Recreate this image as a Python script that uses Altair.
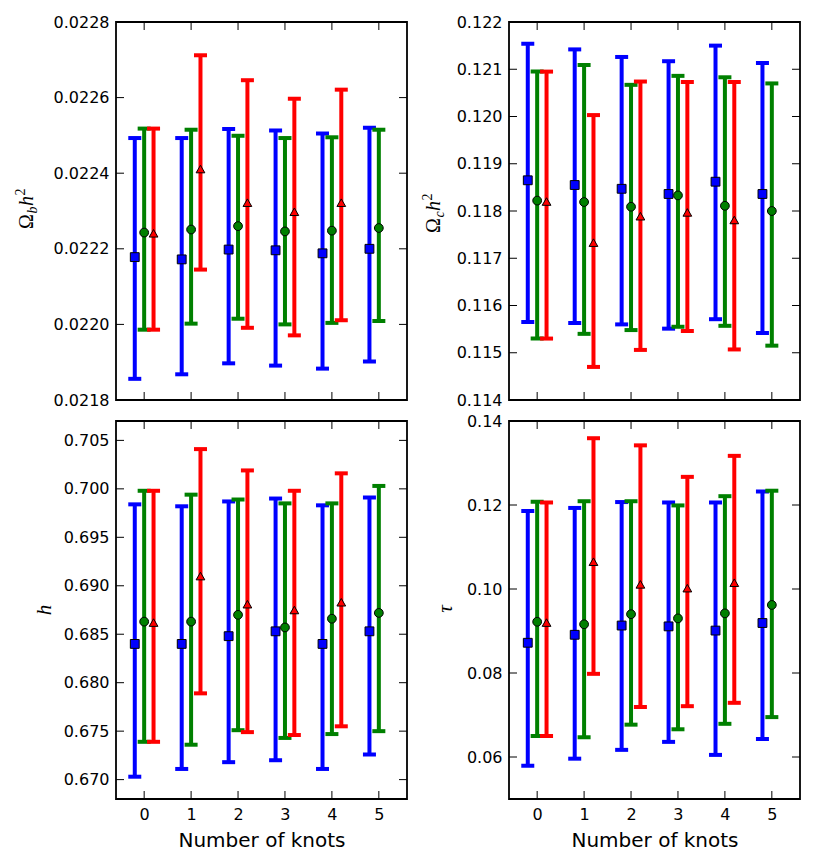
import altair as alt
import pandas as pd

# ---------------- data ----------------
knots = [0, 1, 2, 3, 4, 5]
series_names = ["blue", "green", "red"]

# Omega_b h^2
ob_blue_c = [0.022178, 0.022172, 0.022198, 0.022196, 0.022188, 0.022200]
ob_blue_lo = [0.021856, 0.021868, 0.021897, 0.021891, 0.021883, 0.021902]
ob_blue_hi = [0.022493, 0.022493, 0.022517, 0.022513, 0.022505, 0.022520]
ob_green_c = [0.022243, 0.022251, 0.022260, 0.022246, 0.022248, 0.022255]
ob_green_lo = [0.021986, 0.022002, 0.022015, 0.022000, 0.022004, 0.022009]
ob_green_hi = [0.022518, 0.022515, 0.022499, 0.022493, 0.022495, 0.022515]
ob_red_c = [0.022241, 0.022411, 0.022322, 0.022298, 0.022322]
ob_red_lo = [0.021986, 0.022145, 0.021991, 0.021971, 0.022011]
ob_red_hi = [0.022518, 0.022712, 0.022646, 0.022597, 0.022621]

# Omega_c h^2
oc_blue_c = [0.11865, 0.11855, 0.11847, 0.11836, 0.11862, 0.11836]
oc_blue_lo = [0.11565, 0.11563, 0.11560, 0.11551, 0.11571, 0.11542]
oc_blue_hi = [0.12154, 0.12142, 0.12126, 0.12117, 0.12150, 0.12113]
oc_green_c = [0.11822, 0.11819, 0.11809, 0.11833, 0.11811, 0.11800]
oc_green_lo = [0.11530, 0.11540, 0.11548, 0.11555, 0.11557, 0.11515]
oc_green_hi = [0.12095, 0.12109, 0.12067, 0.12086, 0.12083, 0.12070]
oc_red_c = [0.11820, 0.11733, 0.11789, 0.11797, 0.11781]
oc_red_lo = [0.11530, 0.11470, 0.11506, 0.11546, 0.11507]
oc_red_hi = [0.12095, 0.12003, 0.12074, 0.12073, 0.12073]

# h
h_blue_c = [0.6840, 0.6840, 0.6848, 0.6853, 0.6840, 0.6853]
h_blue_lo = [0.6703, 0.6711, 0.6718, 0.6720, 0.6711, 0.6726]
h_blue_hi = [0.6984, 0.6982, 0.6987, 0.6990, 0.6983, 0.6991]
h_green_c = [0.6863, 0.6863, 0.6870, 0.6857, 0.6866, 0.6872]
h_green_lo = [0.6739, 0.6736, 0.6751, 0.6743, 0.6747, 0.6750]
h_green_hi = [0.6998, 0.6994, 0.6989, 0.6985, 0.6985, 0.7003]
h_red_c = [0.6862, 0.6910, 0.6881, 0.6875, 0.6883]
h_red_lo = [0.6739, 0.6789, 0.6749, 0.6746, 0.6755]
h_red_hi = [0.6998, 0.7041, 0.7019, 0.6998, 0.7016]

# tau
t_blue_c = [0.0872, 0.0891, 0.0913, 0.0911, 0.0901, 0.0919]
t_blue_lo = [0.0579, 0.0596, 0.0617, 0.0636, 0.0605, 0.0643]
t_blue_hi = [0.1186, 0.1193, 0.1207, 0.1206, 0.1206, 0.1232]
t_green_c = [0.0922, 0.0916, 0.0940, 0.0930, 0.0942, 0.0962]
t_green_lo = [0.0650, 0.0647, 0.0677, 0.0666, 0.0679, 0.0695]
t_green_hi = [0.1208, 0.1209, 0.1209, 0.1199, 0.1221, 0.1234]
t_red_c = [0.0920, 0.1065, 0.1011, 0.1002, 0.1015]
t_red_lo = [0.0650, 0.0798, 0.0719, 0.0721, 0.0729]
t_red_hi = [0.1206, 0.1359, 0.1342, 0.1267, 0.1317]

ob_ticks = [0.0218, 0.0220, 0.0222, 0.0224, 0.0226, 0.0228]
oc_ticks = [0.114, 0.115, 0.116, 0.117, 0.118, 0.119, 0.120, 0.121, 0.122]
h_ticks = [0.670, 0.675, 0.680, 0.685, 0.690, 0.695, 0.700, 0.705]
t_ticks = [0.06, 0.08, 0.10, 0.12, 0.14]

# ---------------- style ----------------
COLORS = ["#0000ff", "#008000", "#ff0000"]
SHAPES = ["square", "circle", "triangle-up"]
OFFSETS = {"blue": -0.2, "green": 0.0, "red": 0.2}
W, H = 291, 378
TICK = 8
FONT = "DejaVu Sans"
MATH = "Liberation Serif"


def build_df(blue, green, red):
    rows = []
    for name, (c, lo, hi) in zip(series_names, [blue, green, red]):
        for k, cv, lv, hv in zip(knots, c, lo, hi):
            rows.append(dict(series=name, k=k, xpos=k + OFFSETS[name], c=cv, lo=lv, hi=hv))
    return pd.DataFrame(rows)


def title_layers(parts, x0, y0):
    layers = []
    y = y0
    one = pd.DataFrame({"a": [0]})
    for text, size, style, shift, adv in parts:
        layers.append(
            alt.Chart(one).mark_text(
                angle=270, align="left", baseline="alphabetic", font=MATH,
                fontSize=size, fontStyle=style, color="black"
            ).encode(x=alt.value(x0 + shift), y=alt.value(y), text=alt.value(text))
        )
        y -= adv
    return layers


def panel(df, ydomain, yticks, yfmt, bottom, titles):
    xscale = alt.Scale(domain=[-0.6, 5.6], nice=False, zero=False)
    yscale = alt.Scale(domain=ydomain, nice=False, zero=False)
    if bottom:
        xaxis = alt.Axis(values=knots, format="d", title="Number of knots",
                         labelFontSize=16, titleFontSize=20, labelPadding=7,
                         titlePadding=8, ticks=False, tickSize=0, domain=False, grid=False,
                         labelFont=FONT, titleFont=FONT, titleFontWeight="normal",
                         labelColor="black", titleColor="black", labelFlush=False)
    else:
        xaxis = alt.Axis(values=knots, labels=False, title=None, ticks=False,
                         tickSize=0, domain=False, grid=False)
    yaxis = alt.Axis(values=yticks, format=yfmt, title=None, labelFontSize=16,
                     labelPadding=7, ticks=False, tickSize=0, domain=False, grid=False,
                     labelFont=FONT, labelColor="black", labelFlush=False)

    color = alt.Color("series:N", scale=alt.Scale(domain=series_names, range=COLORS), legend=None)
    X = alt.X("xpos:Q", scale=xscale, axis=xaxis)
    base = alt.Chart(df)

    bars = base.mark_rule(strokeWidth=4).encode(
        x=X, y=alt.Y("lo:Q", scale=yscale, axis=yaxis), y2="hi:Q", color=color)
    cap_lo = base.mark_tick(orient="horizontal", size=13, thickness=4, opacity=1).encode(
        x=X, y=alt.Y("lo:Q", scale=yscale, axis=yaxis), color=color)
    cap_hi = base.mark_tick(orient="horizontal", size=13, thickness=4, opacity=1).encode(
        x=X, y=alt.Y("hi:Q", scale=yscale, axis=yaxis), color=color)
    pts = base.mark_point(filled=True, opacity=1, stroke="black", strokeWidth=1).encode(
        x=X, y=alt.Y("c:Q", scale=yscale, axis=yaxis), color=color,
        shape=alt.Shape("series:N", scale=alt.Scale(domain=series_names, range=SHAPES), legend=None),
        size=alt.Size("series:N", scale=alt.Scale(domain=series_names, range=[78, 76, 90]), legend=None),
    )

    yt = alt.Chart(pd.DataFrame({"v": yticks}))
    xt = alt.Chart(pd.DataFrame({"k": knots}))
    YT = alt.Y("v:Q", scale=yscale, axis=yaxis)
    XT = alt.X("k:Q", scale=xscale, axis=xaxis)
    ticks = [
        yt.mark_rule(color="black", strokeWidth=1).encode(y=YT, x=alt.value(0), x2=alt.value(TICK)),
        yt.mark_rule(color="black", strokeWidth=1).encode(y=YT, x=alt.value(W - TICK), x2=alt.value(W)),
        xt.mark_rule(color="black", strokeWidth=1).encode(x=XT, y=alt.value(0), y2=alt.value(TICK)),
        xt.mark_rule(color="black", strokeWidth=1).encode(x=XT, y=alt.value(H - TICK), y2=alt.value(H)),
    ]
    return alt.layer(*ticks, bars, cap_lo, cap_hi, pts, *titles).properties(width=W, height=H)


ob_df = build_df((ob_blue_c, ob_blue_lo, ob_blue_hi), (ob_green_c, ob_green_lo, ob_green_hi),
                 (ob_red_c, ob_red_lo, ob_red_hi))
oc_df = build_df((oc_blue_c, oc_blue_lo, oc_blue_hi), (oc_green_c, oc_green_lo, oc_green_hi),
                 (oc_red_c, oc_red_lo, oc_red_hi))
h_df = build_df((h_blue_c, h_blue_lo, h_blue_hi), (h_green_c, h_green_lo, h_green_hi),
                (h_red_c, h_red_lo, h_red_hi))
t_df = build_df((t_blue_c, t_blue_lo, t_blue_hi), (t_green_c, t_green_lo, t_green_hi),
                (t_red_c, t_red_lo, t_red_hi))

ob_title = title_layers([("Ω", 20, "normal", 0, 15.5), ("b", 14, "italic", 4, 7.5),
                         ("h", 20, "italic", 0, 10.5), ("2", 14, "normal", -8, 7)], -83, 207)
oc_title = title_layers([("Ω", 20, "normal", 0, 15.5), ("c", 14, "italic", 4, 6.5),
                         ("h", 20, "italic", 0, 10.5), ("2", 14, "normal", -8, 7)], -69, 211)
one = pd.DataFrame({"a": [0]})
h_title = [alt.Chart(one).mark_text(angle=270, align="center", baseline="alphabetic", font=MATH,
                                    fontSize=21, fontStyle="italic", color="black")
           .encode(x=alt.value(-65), y=alt.value(189), text=alt.value("h"))]
t_title = [alt.Chart(one).mark_text(angle=270, align="center", baseline="alphabetic", font=MATH,
                                    fontSize=21, fontStyle="italic", color="black")
           .encode(x=alt.value(-57), y=alt.value(188), text=alt.value("τ"))]

p1 = panel(ob_df, [0.0218, 0.0228], ob_ticks, ".4f", False, ob_title)
p2 = panel(oc_df, [0.114, 0.122], oc_ticks, ".3f", False, oc_title)
p3 = panel(h_df, [0.668, 0.707], h_ticks, ".3f", True, h_title)
p4 = panel(t_df, [0.05, 0.14], t_ticks, ".2f", True, t_title)

chart = alt.concat(p1, p2, p3, p4, columns=2, spacing={"row": 21, "column": 102},
                   bounds="flush").configure(
    background="white", font=FONT
).configure_view(
    stroke="black", strokeWidth=1.8
)

chart.save("out.html", embed_options={"renderer": "svg", "actions": False})
